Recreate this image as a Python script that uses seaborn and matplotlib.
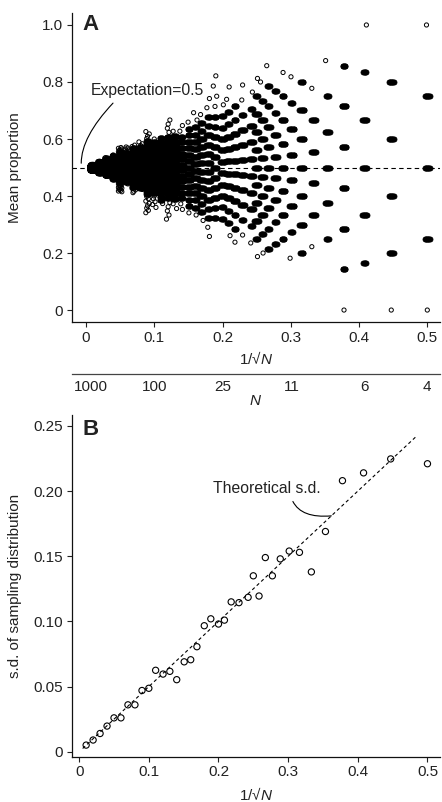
import numpy as np
import pandas as pd
import seaborn as sns
import matplotlib.pyplot as plt

# one column per sample size N (x position is 1/sqrt(N))
sample_n = [10000, 2500, 1111, 625, 400, 278, 204, 156, 123, 100, 83, 69, 59, 51, 44,
            39, 35, 31, 28, 25, 23, 21, 19, 17, 16, 15, 14, 13, 12, 11, 10, 9, 8, 7, 6, 5, 4]

# panel B: observed s.d. of the sampling distribution for each N
sd_observed = [0.0051, 0.009, 0.014, 0.0197, 0.026, 0.026, 0.036, 0.036, 0.047, 0.0487,
               0.0625, 0.0596, 0.0617, 0.0553, 0.069, 0.0706, 0.0806, 0.0967, 0.102, 0.098,
               0.101, 0.115, 0.1144, 0.1185, 0.135, 0.1195, 0.149, 0.135, 0.148, 0.154,
               0.153, 0.138, 0.169, 0.208, 0.214, 0.2247, 0.221]

# panel A: lowest / highest mean proportion seen in each column
prop_low = [0.489, 0.478, 0.47, 0.46, 0.415, 0.44, 0.407, 0.42, 0.341, 0.36, 0.37, 0.319,
            0.356, 0.35, 0.34, 0.33, 0.314, 0.258, 0.321, 0.32, 0.261, 0.238, 0.263, 0.235,
            0.1875, 0.2, 0.214, 0.231, 0.25, 0.182, 0.2, 0.222, 0.25, 0.0, 0.167, 0.0, 0.0]
prop_high = [0.511, 0.522, 0.535, 0.545, 0.57, 0.572, 0.583, 0.59, 0.626, 0.60, 0.614, 0.667,
             0.63, 0.647, 0.66, 0.692, 0.686, 0.742, 0.821, 0.72, 0.783, 0.714, 0.789, 0.765,
             0.8125, 0.8, 0.857, 0.769, 0.833, 0.818, 0.8, 0.778, 0.875, 0.857, 1.0, 0.8, 1.0]

# ends of the theoretical s.d. line in panel B
theory_x = [0.005, 0.485]
theory_y = [0.0025, 0.2425]

n_axis_labels = [1000, 100, 25, 11, 6, 4]

# build the cloud of sample means: values that occur often are drawn as
# several slightly shifted dots so they look solid, like the original
wide = [-0.0035, -0.0025, -0.0015, -0.0005, 0.0005, 0.0015, 0.0025, 0.0035]
mid = [-0.002, -0.001, 0.0, 0.001, 0.002]
jit = [0.0, 0.0025, -0.0025, 0.0012, -0.0012]
rows = []
for n, lo, hi, sd in zip(sample_n, prop_low, prop_high, sd_observed):
    x = 1 / np.sqrt(n)
    k_lo = int(np.ceil(lo * n - 0.02))
    k_hi = int(np.floor(hi * n + 0.02))
    for k in range(k_lo, k_hi + 1):
        p = k / n
        z = abs(p - 0.5) / sd
        if z < 1.4:
            offs, heavy = wide, True
        elif z < 2.0:
            offs, heavy = mid, True
        else:
            offs, heavy = [jit[k % 5]], False
        for o in offs:
            rows.append((x + o, p, heavy))
means_df = pd.DataFrame(rows, columns=['x', 'prop', 'heavy'])

sd_df = pd.DataFrame({'x': [1 / np.sqrt(n) for n in sample_n], 'sd': sd_observed})

sns.set_style('ticks')
plt.rcParams['font.family'] = ['Liberation Sans', 'DejaVu Sans']
plt.rcParams['mathtext.fontset'] = 'custom'
plt.rcParams['mathtext.it'] = 'Liberation Sans:italic'
plt.rcParams['mathtext.rm'] = 'Liberation Sans'
txt = '#222222'
fs = 11

W, H = 442, 802
fig = plt.figure(figsize=(W / 100, H / 100), dpi=100, facecolor='white')


def px_rect(left, top, right, bottom):
    return [left / W, 1 - bottom / H, (right - left) / W, (bottom - top) / H]


def style_axes(ax):
    sns.despine(ax=ax)
    for s in ['left', 'bottom']:
        ax.spines[s].set_linewidth(0.9)
        ax.spines[s].set_color('#111111')
    ax.tick_params(length=3.8, width=0.8, pad=2.5, labelsize=fs, colors=txt)


# ---------------- panel A ----------------
ax_a = fig.add_axes(px_rect(72, 13, 440, 322.3))
sns.scatterplot(data=means_df[~means_df['heavy']], x='x', y='prop', marker='o', s=9,
                facecolors='none', edgecolor='black', linewidth=0.7, ax=ax_a)
sns.scatterplot(data=means_df[means_df['heavy']], x='x', y='prop', marker='o', s=13,
                facecolors='black', edgecolor='black', linewidth=0.6, ax=ax_a)
ax_a.axhline(0.5, color='black', lw=0.8, linestyle=(0, (4, 3)), zorder=0)
ax_a.set_xlim(-0.0205, 0.5186)
ax_a.set_ylim(-0.043, 1.042)
ax_a.set_xticks([0, 0.1, 0.2, 0.3, 0.4, 0.5], labels=['0', '0.1', '0.2', '0.3', '0.4', '0.5'])
ax_a.set_yticks([0, 0.2, 0.4, 0.6, 0.8, 1.0], labels=['0', '0.2', '0.4', '0.6', '0.8', '1.0'])
style_axes(ax_a)
ax_a.set_ylabel('Mean proportion', fontsize=fs, color=txt)
ax_a.yaxis.set_label_coords(-0.135, 0.5)
ax_a.set_xlabel('1/√$\\mathit{N}$', fontsize=fs, color=txt)
ax_a.xaxis.set_label_coords(0.5, -0.09)

ax_a.annotate('Expectation=0.5', xy=(-0.007, 0.515), xytext=(0.0073, 0.755),
              fontsize=11.3, color=txt, va='baseline', ha='left',
              arrowprops=dict(arrowstyle='-', lw=0.8, color='black', relpos=(0.24, 0),
                              connectionstyle='angle3,angleA=45,angleB=90',
                              shrinkA=2, shrinkB=0))

sec = ax_a.secondary_xaxis(-0.168)
sec.set_xticks([1 / np.sqrt(n) for n in n_axis_labels], labels=[str(n) for n in n_axis_labels])
sec.tick_params(length=0, pad=4, labelsize=fs, colors=txt)
sec.spines['bottom'].set_linewidth(0.9)
sec.spines['bottom'].set_color('#444444')
sec.spines['top'].set_visible(False)
for t in sec.get_xticklabels():
    if t.get_text() == '1000':
        t.set_ha('right')
sec.set_xlabel('$\\mathit{N}$', fontsize=fs, color=txt, labelpad=0)

fig.text(82 / W, 1 - 30 / H, 'A', fontsize=16, fontweight='bold', color=txt,
         ha='left', va='baseline')

# ---------------- panel B ----------------
ax_b = fig.add_axes(px_rect(72, 415, 440, 756.7))
ax_b.plot(theory_x, theory_y, color='black', lw=0.8, linestyle=(0, (3, 2.5)))
sns.scatterplot(data=sd_df, x='x', y='sd', marker='o', s=20, facecolors='none',
                edgecolor='black', linewidth=0.8, ax=ax_b)
ax_b.set_xlim(-0.0103, 0.518)
ax_b.set_ylim(-0.0038, 0.2584)
ax_b.set_xticks([0, 0.1, 0.2, 0.3, 0.4, 0.5], labels=['0', '0.1', '0.2', '0.3', '0.4', '0.5'])
ax_b.set_yticks([0, 0.05, 0.10, 0.15, 0.20, 0.25],
                labels=['0', '0.05', '0.10', '0.15', '0.20', '0.25'])
style_axes(ax_b)
ax_b.set_ylabel('s.d. of sampling distribution', fontsize=fs, color=txt)
ax_b.yaxis.set_label_coords(-0.135, 0.5)
ax_b.set_xlabel('1/√$\\mathit{N}$', fontsize=fs, color=txt)
ax_b.xaxis.set_label_coords(0.5, -0.085)

ax_b.annotate('Theoretical s.d.', xy=(0.362, 0.181), xytext=(0.1924, 0.1988),
              fontsize=11.3, color=txt, va='baseline', ha='left',
              arrowprops=dict(arrowstyle='-', lw=0.8, color='black', relpos=(0.72, 0),
                              connectionstyle='angle3,angleA=-75,angleB=5',
                              shrinkA=2, shrinkB=0))

fig.text(82 / W, 1 - 435 / H, 'B', fontsize=16, fontweight='bold', color=txt,
         ha='left', va='baseline')

fig.savefig('out.png', dpi=100)
